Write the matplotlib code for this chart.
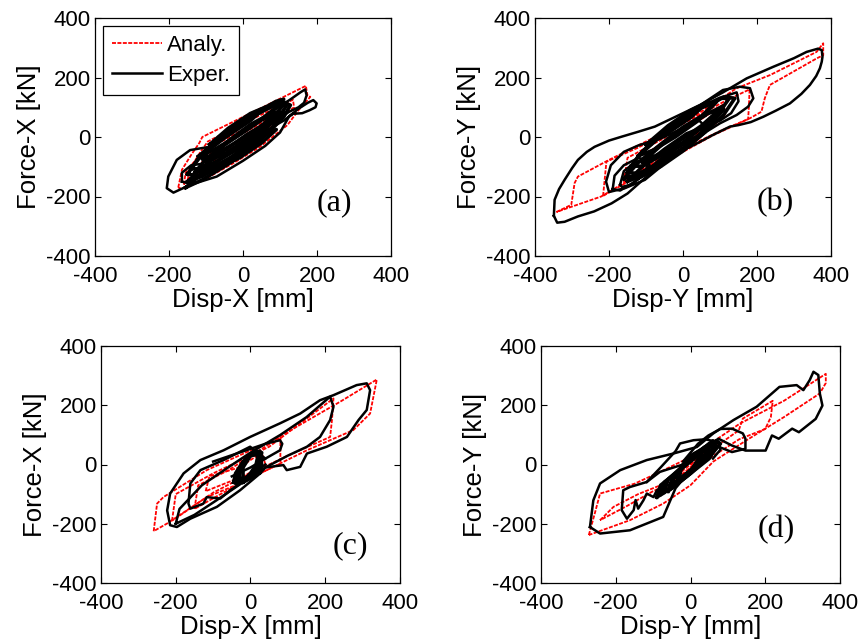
import matplotlib
matplotlib.use("Agg")
import matplotlib.pyplot as plt

plt.rcParams['font.family'] = ['Liberation Sans', 'DejaVu Sans']
plt.rcParams['axes.unicode_minus'] = False

# ---------------- data ----------------
ticks = [-400, -200, 0, 200, 400]
legend_labels = ["Analy.", "Exper."]
panel_tags = ["(a)", "(b)", "(c)", "(d)"]
x_labels = ["Disp-X [mm]", "Disp-Y [mm]", "Disp-X [mm]", "Disp-Y [mm]"]
y_labels = ["Force-X [kN]", "Force-Y [kN]", "Force-X [kN]", "Force-Y [kN]"]
tag_pos = [(246, -222), (250, -222), (268, -274), (229, -220)]

# ---- panel (a)
a_ana_1 = ([-175, -165, -140, -118, -110, -40, 60, 170, 174, 182, 150, 120, 46, -26, -100, -165, -175],
           [-170, -110, -60, -20, 0, 43, 104, 172, 140, 135, 90, 40, -33, -88, -140, -174, -170])
a_ana_2 = ([-150, -140, -115, -95, 0, 100, 135, 138, 90, 20, -60, -120, -150],
           [-145, -100, -50, -15, 45, 105, 125, 100, 55, -10, -75, -125, -145])
a_ana_3 = ([-120, -105, -80, 0, 90, 100, 60, -10, -80, -120],
           [-110, -70, -30, 25, 85, 65, 25, -35, -90, -110])
a_ana_4 = ([-80, -70, -40, 40, 65, 60, 20, -40, -80],
           [-80, -50, -15, 40, 60, 40, 5, -45, -80])
a_ana_5 = ([-160, -155, -130, -100, -60, -100, -140, -160],
           [-160, -120, -80, -60, -40, -90, -130, -160])
a_exp_1 = ([-100, -143, -179, -202, -206, -188, -143, -71, 0, 60, 100, 125, 150, 175, 190, 199, 196, 180, 160, 135, 110, 60],
           [-35, -44, -77, -133, -172, -187, -161, -133, -80, -30, 15, 70, 95, 115, 124, 113, 100, 90, 80, 78, 55, 20])
a_exp_2 = ([40, 90, 130, 155, 168, 172, 165, 150, 125, 90, 40],
           [50, 95, 128, 150, 160, 140, 115, 100, 85, 55, 10])
a_exp_3 = ([-165, -165, -140, -110, -100, -120, -150, -165],
           [-150, -120, -95, -90, -110, -135, -155, -150])
a_core_1 = ([-150, -120, -60, 0, 60, 110, 128, 110, 60, 0, -60, -120, -150],
            [-125, -70, -5, 55, 95, 117, 107, 67, 5, -55, -95, -130, -125])
a_core_2 = ([-140, -110, -50, 0, 50, 100, 120, 100, 50, 0, -50, -110, -140],
            [-107, -57, 3, 50, 87, 116, 110, 72, 17, -30, -67, -107, -107])
a_core_3 = ([-130, -100, -40, 20, 80, 110, 80, 20, -40, -100, -130],
            [-119, -74, -13, 42, 82, 82, 32, -28, -73, -114, -119])
a_core_4 = ([-110, -80, -20, 40, 90, 115, 90, 40, -20, -80, -110],
            [-72, -32, 25, 78, 110, 116, 80, 28, -19, -62, -72])
a_core_5 = ([-150, -110, -50, 10, 70, 100, 70, 10, -50, -110, -150],
            [-150, -102, -45, 8, 52, 59, 16, -42, -89, -132, -150])
a_core_6 = ([-120, -80, -20, 40, 90, 110, 90, 40, -20, -80, -120],
            [-65, -20, 36, 86, 120, 127, 100, 50, 0, -44, -65])
a_core_7 = ([-155, -110, -40, 30, 70, 30, -40, -110, -155],
            [-170, -120, -55, 0, 19, -30, -91, -144, -170])
a_core_8 = ([-100, -50, 0, 50, 100, 50, 0, -50, -100],
            [-84, -27, 15, 57, 84, 27, -15, -57, -84])
a_core_9 = ([-90, -40, 20, 60, 20, -40, -90],
            [-25, 29, 79, 100, 55, 5, -25])
a_core_10 = ([-60, -10, 50, 90, 50, -10, -60],
             [-100, -46, 4, 25, -20, -70, -100])

# ---- panel (b)
b_ana_1 = ([-342, -302, -293, -284, -200, -100, 0, 145, 235, 361, 379, 379, 361, 235, 221, 212, 181, 100, 0, -100, -221, -342],
           [-252, -228, -155, -133, -77, -15, 45, 164, 208, 286, 315, 275, 264, 175, 130, 85, 63, 20, -40, -110, -200, -252])
b_ana_2 = ([-216, -207, -120, 0, 120, 180, 178, 176, 80, 0, -120, -216],
           [-198, -83, -35, 45, 125, 160, 100, 60, 5, -50, -130, -198])
b_ana_3 = ([-160, -150, -60, 40, 110, 115, 60, -40, -160],
           [-150, -70, -10, 60, 110, 70, 20, -60, -150])
b_ana_4 = ([-110, -100, 0, 80, 85, 20, -60, -110],
           [-110, -55, 20, 85, 50, -5, -70, -110])
b_exp_1 = ([-349, -347, -335, -320, -300, -284, -260, -239, -200, -166, -120, -76, 0, 50, 108, 172, 244, 300, 334, 365, 375, 377, 375, 370, 360, 343, 320, 289, 250, 217, 183, 150, 127, 81, 40, 0, -50, -100, -150, -193, -240, -284, -320, -340, -349],
           [-265, -211, -175, -144, -105, -77, -50, -33, -12, 1, 18, 35, 80, 110, 150, 197, 236, 265, 286, 297, 292, 270, 253, 231, 205, 175, 145, 113, 88, 68, 50, 40, 35, 7, -20, -45, -85, -135, -190, -223, -250, -267, -285, -288, -265])
b_exp_2 = ([-60, -103, -157, -200, -208, -195, -160, -120, -60, 0, 60],
           [-100, -144, -172, -185, -150, -95, -50, -28, -5, 30, 70])
b_exp_3 = ([-20, 50, 108, 154, 181, 190, 176, 145, 100, 40, -20],
           [30, 110, 158, 169, 164, 130, 102, 74, 46, 0, -40])
b_exp_4 = ([-190, -185, -160, -120, -95, -100, -130, -170, -190],
           [-175, -130, -95, -70, -80, -115, -150, -180, -175])
b_exp_5 = ([-170, -160, -130, -100, -90, -110, -140, -165, -170],
           [-160, -115, -85, -75, -95, -130, -160, -168, -160])
b_exp_6 = ([40, 80, 120, 145, 150, 130, 100, 60, 40],
           [60, 110, 140, 150, 120, 80, 55, 35, 60])
b_core_1 = ([-150, -120, -60, 0, 60, 110, 140, 110, 60, 0, -60, -120, -150],
            [-119, -63, 3, 65, 107, 135, 130, 75, 17, -45, -87, -123, -119])
b_core_2 = ([-140, -110, -50, 0, 50, 100, 125, 100, 50, 0, -50, -110, -140],
            [-98, -48, 14, 62, 100, 130, 130, 86, 30, -18, -56, -98, -98])
b_core_3 = ([-160, -120, -60, 0, 60, 110, 60, 0, -60, -120, -160],
            [-140, -85, -24, 33, 78, 93, 22, -37, -84, -125, -140])
b_core_4 = ([-120, -80, -20, 40, 90, 40, -20, -80, -120],
            [-63, -14, 45, 94, 117, 54, 1, -44, -63])
b_core_5 = ([-150, -110, -50, 10, 70, 10, -50, -110, -150],
            [-149, -100, -41, 11, 40, -33, -85, -130, -149])
b_core_6 = ([-110, -50, 0, 50, 110, 50, 0, -50, -110],
            [-85, -18, 25, 68, 105, 38, -5, -48, -85])
b_core_7 = ([-100, -40, 20, 70, 20, -40, -100],
            [-26, 38, 89, 120, 65, 14, -26])
b_core_8 = ([-120, -60, 0, 60, 0, -60, -120],
            [-138, -75, -23, 17, -47, -99, -138])

# ---- panel (c)
c_ana_1 = ([-259, -250, -233, -117, 61, 240, 338, 320, 275, 151, 88, -28, -117, -223, -259],
           [-225, -132, -110, -19, 82, 212, 287, 172, 116, 48, 9, -64, -110, -199, -225])
c_ana_2 = ([-210, -200, -100, 50, 222, 218, 213, 100, 0, -100, -210],
           [-190, -100, -30, 60, 223, 150, 93, 30, -30, -95, -190])
c_ana_3 = ([-150, -140, -60, 80, 80, 0, -80, -150],
           [-150, -70, -20, 93, 3, -45, -100, -150])
c_ana_4 = ([-120, -110, -30, 30, 40, -20, -120],
           [-90, -40, -10, 40, 0, -40, -90])
c_exp_1 = ([26, -28, -90, -161, -197, -215, -223, -215, -179, -134, -72, -1, 79, 133, 186, 222, 284, 311, 320, 311, 289, 258, 204, 151, 133, 97, 88, 40, 26],
           [-30, -87, -143, -183, -211, -205, -155, -98, -30, 15, 48, 93, 139, 172, 217, 234, 268, 274, 251, 184, 150, 93, 60, 37, -8, -19, -2, -10, -30])
c_exp_2 = ([-200, -190, -130, -60, 0, 80, 150, 213, 222, 213, 186, 151, 100, 40, -20, -90, -150, -200],
           [-200, -150, -70, -10, 40, 100, 160, 229, 195, 150, 93, 60, 30, -10, -60, -120, -170, -200])
c_exp_3 = ([40, -1, -72, -134, -161, -166, -161, -126, -117, -81, -54, 0, 40],
           [20, 60, 15, -19, -64, -132, -149, -132, -110, -115, -87, -40, 0])
c_exp_4 = ([-100, -30, 40, 79, 85, 79, 40, 0, -50],
           [10, 40, 70, 82, 70, 48, 20, -10, -40])
c_core_1 = ([-40, -30, -10, 10, 20, 15, 0, -20, -35, -40],
            [-50, -20, 20, 40, 30, 0, -30, -55, -60, -50])
c_core_2 = ([-30, -25, -5, 15, 25, 20, 0, -25, -30],
            [-40, -10, 25, 45, 30, -5, -40, -50, -40])
c_core_3 = ([-20, -20, 0, 25, 30, 10, -20],
            [-60, -10, 30, 35, 0, -40, -60])
c_core_4 = ([-45, -40, -20, 5, 25, 30, 15, -10, -35, -45],
            [-60, -30, 10, 35, 45, 20, -15, -50, -65, -60])
c_core_5 = ([-35, -30, -15, 10, 30, 25, 5, -20, -35],
            [-55, -25, 15, 45, 40, 10, -25, -60, -55])

# ---- panel (d)
d_ana_1 = ([-272, -255, -242, -150, -90, 0, 132, 250, 362, 362, 346, 250, 150, 61, 0, -73, -162, -272],
           [-238, -160, -98, -65, -30, 25, 138, 215, 306, 275, 240, 160, 82, 10, -70, -132, -188, -238])
d_ana_2 = ([0, 129, 140, 220, 215, 200, 130, 0],
           [0, 115, 155, 215, 160, 120, 85, -20])
d_ana_3 = ([-242, -206, -140, -60, -30, -100, -170, -242],
           [-188, -143, -100, -60, -50, -90, -140, -188])
d_ana_4 = ([-60, -40, 0, 40, 60, 40, 0, -40, -60],
           [-80, -40, 0, 50, 70, 40, -10, -60, -80])
d_ana_5 = ([-40, -30, 10, 50, 45, 10, -30, -40],
           [-60, -20, 20, 60, 40, 0, -40, -60])
d_exp_1 = ([-269, -260, -242, -188, -117, -46, 17, 61, 115, 177, 238, 284, 302, 319, 329, 342, 346, 353, 335, 290, 272, 236, 218, 201, 147, 111, 75, 40, 0, -40, -73, -162, -242, -269],
           [-211, -121, -64, -19, 15, 37, 59, 105, 150, 195, 262, 268, 251, 285, 313, 302, 240, 199, 154, 109, 121, 87, 98, 47, 47, 64, 87, 60, -20, -80, -177, -222, -233, -211])
d_exp_2 = ([-20, -55, -82, -117, -162, -180, -184, -170, -152, -147, -140, -126, -117, -99, -90, -73, -40, -10],
           [0, -14, -25, -59, -76, -87, -154, -183, -154, -120, -149, -121, -98, -110, -87, -76, -60, -40])
d_exp_3 = ([-20, 20, 48, 80, 111, 140, 147, 147, 111, 75, 30, 0],
           [10, 70, 98, 120, 121, 105, 87, 53, 42, 60, 30, -20])
d_exp_4 = ([-117, -80, -40, -28, 8, 40, 75, 80, 60],
           [-59, -10, 45, 71, 82, 85, 75, 50, 20])
d_core_1 = ([-70, -60, -20, 30, 60, 70, 50, 0, -50, -70],
            [-90, -50, -5, 50, 80, 60, 20, -30, -80, -90])
d_core_2 = ([-50, -40, 0, 40, 70, 55, 10, -40, -50],
            [-70, -30, 20, 60, 75, 40, -10, -60, -70])
d_core_3 = ([-80, -70, -30, 10, 50, 40, 0, -50, -80],
            [-100, -60, -20, 30, 55, 20, -30, -80, -100])
d_core_4 = ([-30, -25, 0, 30, 45, 35, 0, -25, -30],
            [-50, -10, 30, 50, 40, 10, -30, -55, -50])
d_core_5 = ([-90, -80, -40, 0, 40, 70, 80, 60, 20, -30, -70, -90],
            [-110, -70, -30, 10, 50, 80, 70, 40, 0, -50, -95, -110])
d_core_6 = ([-60, -50, -20, 20, 50, 60, 40, 0, -40, -60],
            [-90, -50, -10, 40, 70, 55, 20, -25, -70, -90])
d_core_7 = ([-40, -20, 10, 40, 50, 30, 0, -30, -40],
            [-40, 0, 35, 60, 50, 20, -20, -55, -40])

panels_ana = [
    [a_ana_1, a_ana_2, a_ana_3, a_ana_4, a_ana_5],
    [b_ana_1, b_ana_2, b_ana_3, b_ana_4],
    [c_ana_1, c_ana_2, c_ana_3, c_ana_4],
    [d_ana_1, d_ana_2, d_ana_3, d_ana_4, d_ana_5],
]
panels_exp = [
    [a_exp_1, a_exp_2, a_exp_3],
    [b_exp_1, b_exp_2, b_exp_3, b_exp_4, b_exp_5, b_exp_6],
    [c_exp_1, c_exp_2, c_exp_3, c_exp_4],
    [d_exp_1, d_exp_2, d_exp_3, d_exp_4],
]
panels_core = [
    [a_core_1, a_core_2, a_core_3, a_core_4, a_core_5, a_core_6, a_core_7, a_core_8, a_core_9, a_core_10],
    [b_core_1, b_core_2, b_core_3, b_core_4, b_core_5, b_core_6, b_core_7, b_core_8],
    [c_core_1, c_core_2, c_core_3, c_core_4, c_core_5],
    [d_core_1, d_core_2, d_core_3, d_core_4, d_core_5, d_core_6, d_core_7],
]

# ---------------- layout ----------------
W, H = 862, 644
boxes_px = [(95, 18, 391, 256), (535, 18, 831, 256), (101, 346, 400, 583), (541, 346, 840, 583)]

fig = plt.figure(figsize=(W / 100, H / 100), dpi=100)
red_style = dict(color='#ff0000', lw=1.3, ls=(0, (2.2, 0.8)))
blk_style = dict(color='black', lw=1.8, ls='-')
core_style = dict(color='black', lw=2.6, ls='-')

for i, (l, t, r, b) in enumerate(boxes_px):
    ax = fig.add_axes([l / W, 1 - b / H, (r - l) / W, (b - t) / H])
    for k, (xs, ys) in enumerate(panels_ana[i]):
        ax.plot(xs, ys, **red_style, zorder=2, label=legend_labels[0] if k == 0 else None)
    for k, (xs, ys) in enumerate(panels_exp[i]):
        ax.plot(xs, ys, **blk_style, zorder=3, label=legend_labels[1] if k == 0 else None)
    for xs, ys in panels_core[i]:
        ax.plot(xs, ys, **core_style, zorder=3)
    ax.set_xlim(-400, 400)
    ax.set_ylim(-400, 400)
    ax.set_xticks(ticks)
    ax.set_yticks(ticks)
    ax.tick_params(direction='in', length=4, width=0.8, top=True, right=True,
                   labelsize=16)
    ax.tick_params(axis='x', pad=7.5)
    ax.tick_params(axis='y', pad=3)
    for sp in ax.spines.values():
        sp.set_linewidth(0.9)
    ax.set_xlabel(x_labels[i], fontsize=18.5, labelpad=0.5)
    ax.set_ylabel(y_labels[i], fontsize=18.5, labelpad=4)
    ax.text(tag_pos[i][0], tag_pos[i][1], panel_tags[i], fontsize=23,
            family=['Liberation Serif', 'DejaVu Serif'], ha='center', va='center')
    if i == 0:
        leg = ax.legend(loc='upper left', fontsize=16, frameon=True, fancybox=False,
                        edgecolor='black', framealpha=1, borderaxespad=0.36,
                        handlelength=2.25, handletextpad=0.25, borderpad=0.4,
                        labelspacing=0.4)
        leg.get_frame().set_linewidth(0.9)

fig.savefig('out.png', dpi=100)
